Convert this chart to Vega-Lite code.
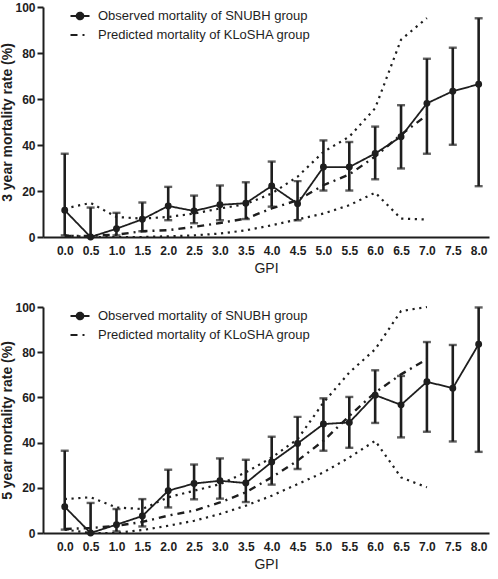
{
  "$schema": "https://vega.github.io/schema/vega-lite/v6.json",
  "background": "white",
  "padding": {"left": 0, "top": 1, "right": 6, "bottom": 4},
  "spacing": 26,
  "config": {
    "font": "Liberation Sans",
    "view": {"stroke": null},
    "axis": {
      "grid": false,
      "domainColor": "#1e1e1e",
      "domainWidth": 2,
      "tickColor": "#1e1e1e",
      "tickWidth": 2,
      "labelFont": "Liberation Sans",
      "labelFontWeight": "bold",
      "labelFontSize": 12,
      "labelColor": "#1e1e1e",
      "titleFont": "Liberation Sans",
      "titleFontSize": 14,
      "titleFontWeight": "bold",
      "titleColor": "#1e1e1e"
    },
    "legend": {
      "orient": "none",
      "legendX": 26,
      "legendY": -2,
      "padding": 0,
      "rowPadding": 0,
      "labelFont": "Liberation Sans",
      "labelFontSize": 13,
      "labelColor": "#1e1e1e",
      "labelOffset": 7,
      "labelLimit": 0,
      "symbolSize": 361,
      "symbolStrokeWidth": 2,
      "symbolStrokeColor": "#1e1e1e"
    }
  },
  "datasets": {
    "obs3": [
      {"gpi": 0.0, "rate": 11.6, "lo": 0.7, "hi": 36.2},
      {"gpi": 0.5, "rate": 0.0, "lo": 0.0, "hi": 12.8},
      {"gpi": 1.0, "rate": 3.6, "lo": 0.7, "hi": 10.5},
      {"gpi": 1.5, "rate": 7.7, "lo": 2.5, "hi": 15.0},
      {"gpi": 2.0, "rate": 13.5, "lo": 7.3, "hi": 21.8},
      {"gpi": 2.5, "rate": 11.3, "lo": 6.0, "hi": 18.0},
      {"gpi": 3.0, "rate": 14.0, "lo": 7.3, "hi": 22.4},
      {"gpi": 3.5, "rate": 14.7, "lo": 7.8, "hi": 23.8},
      {"gpi": 4.0, "rate": 22.2, "lo": 13.2, "hi": 32.8},
      {"gpi": 4.5, "rate": 14.5, "lo": 7.3, "hi": 24.3},
      {"gpi": 5.0, "rate": 30.4, "lo": 20.2, "hi": 42.0},
      {"gpi": 5.5, "rate": 30.4, "lo": 20.2, "hi": 41.3},
      {"gpi": 6.0, "rate": 36.3, "lo": 25.1, "hi": 48.0},
      {"gpi": 6.5, "rate": 43.6, "lo": 29.8, "hi": 57.3},
      {"gpi": 7.0, "rate": 58.1, "lo": 36.2, "hi": 77.5},
      {"gpi": 7.5, "rate": 63.4, "lo": 40.1, "hi": 82.3},
      {"gpi": 8.0, "rate": 66.4, "lo": 22.1, "hi": 95.1}
    ],
    "pred3": [
      {"gpi": 0.0, "pred": 0.5, "ciLo": 0.7, "ciHi": 12.4},
      {"gpi": 0.5, "pred": 0.5, "ciLo": 0.0, "ciHi": 14.8},
      {"gpi": 1.0, "pred": 1.0, "ciLo": 0.0, "ciHi": 8.7},
      {"gpi": 1.5, "pred": 2.5, "ciLo": 0.0, "ciHi": 8.0},
      {"gpi": 2.0, "pred": 3.0, "ciLo": 0.3, "ciHi": 8.7},
      {"gpi": 2.5, "pred": 4.4, "ciLo": 0.7, "ciHi": 10.2},
      {"gpi": 3.0, "pred": 6.1, "ciLo": 1.5, "ciHi": 12.4},
      {"gpi": 3.5, "pred": 8.0, "ciLo": 2.9, "ciHi": 14.3},
      {"gpi": 4.0, "pred": 12.4, "ciLo": 5.1, "ciHi": 18.9},
      {"gpi": 4.5, "pred": 16.0, "ciLo": 7.6, "ciHi": 26.2},
      {"gpi": 5.0, "pred": 22.5, "ciLo": 10.2, "ciHi": 37.0},
      {"gpi": 5.5, "pred": 27.2, "ciLo": 13.8, "ciHi": 43.6},
      {"gpi": 6.0, "pred": 35.0, "ciLo": 19.3, "ciHi": 56.0},
      {"gpi": 6.5, "pred": 44.5, "ciLo": 8.0, "ciHi": 85.8},
      {"gpi": 7.0, "pred": 53.0, "ciLo": 7.6, "ciHi": 95.2}
    ],
    "obs5": [
      {"gpi": 0.0, "rate": 11.6, "lo": 1.5, "hi": 36.4},
      {"gpi": 0.5, "rate": 0.0, "lo": 0.0, "hi": 13.3},
      {"gpi": 1.0, "rate": 3.7, "lo": 0.7, "hi": 10.6},
      {"gpi": 1.5, "rate": 7.5, "lo": 2.9, "hi": 15.0},
      {"gpi": 2.0, "rate": 18.7, "lo": 11.3, "hi": 28.0},
      {"gpi": 2.5, "rate": 21.9, "lo": 14.9, "hi": 30.3},
      {"gpi": 3.0, "rate": 23.1, "lo": 15.2, "hi": 33.0},
      {"gpi": 3.5, "rate": 22.1, "lo": 13.7, "hi": 32.4},
      {"gpi": 4.0, "rate": 31.4, "lo": 21.4, "hi": 42.6},
      {"gpi": 4.5, "rate": 39.6, "lo": 28.3, "hi": 51.4},
      {"gpi": 5.0, "rate": 48.2, "lo": 36.4, "hi": 59.6},
      {"gpi": 5.5, "rate": 48.9, "lo": 37.7, "hi": 60.2},
      {"gpi": 6.0, "rate": 61.0, "lo": 48.7, "hi": 72.0},
      {"gpi": 6.5, "rate": 56.7, "lo": 42.3, "hi": 69.5},
      {"gpi": 7.0, "rate": 66.9, "lo": 44.8, "hi": 84.5},
      {"gpi": 7.5, "rate": 64.1, "lo": 40.5, "hi": 83.2},
      {"gpi": 8.0, "rate": 83.5, "lo": 35.9, "hi": 99.8}
    ],
    "pred5": [
      {"gpi": 0.0, "pred": 1.8, "ciLo": 1.5, "ciHi": 15.0},
      {"gpi": 0.5, "pred": 2.2, "ciLo": 0.0, "ciHi": 15.8},
      {"gpi": 1.0, "pred": 3.2, "ciLo": 0.0, "ciHi": 11.3},
      {"gpi": 1.5, "pred": 4.9, "ciLo": 1.3, "ciHi": 10.6},
      {"gpi": 2.0, "pred": 7.7, "ciLo": 3.2, "ciHi": 15.8},
      {"gpi": 2.5, "pred": 9.9, "ciLo": 5.4, "ciHi": 18.7},
      {"gpi": 3.0, "pred": 13.5, "ciLo": 8.4, "ciHi": 21.6},
      {"gpi": 3.5, "pred": 18.0, "ciLo": 12.1, "ciHi": 26.8},
      {"gpi": 4.0, "pred": 24.6, "ciLo": 16.5, "ciHi": 33.4},
      {"gpi": 4.5, "pred": 32.0, "ciLo": 21.6, "ciHi": 41.5},
      {"gpi": 5.0, "pred": 40.8, "ciLo": 26.8, "ciHi": 57.7},
      {"gpi": 5.5, "pred": 51.8, "ciLo": 33.4, "ciHi": 71.0},
      {"gpi": 6.0, "pred": 62.2, "ciLo": 40.8, "ciHi": 81.3},
      {"gpi": 6.5, "pred": 70.2, "ciLo": 24.6, "ciHi": 98.2},
      {"gpi": 7.0, "pred": 76.9, "ciLo": 20.2, "ciHi": 100.0}
    ]
  },
  "vconcat": [
    {
      "width": 446,
      "height": 230,
      "encoding": {
        "x": {
          "field": "gpi",
          "type": "quantitative",
          "scale": {"domain": [-0.42, 8.2], "nice": false, "zero": false},
          "axis": {
            "values": [0, 0.5, 1, 1.5, 2, 2.5, 3, 3.5, 4, 4.5, 5, 5.5, 6, 6.5, 7, 7.5, 8],
            "format": ".1f",
            "ticks": false,
            "labelPadding": 8,
            "title": "GPI",
            "titlePadding": 5,
            "titleFontWeight": "normal"
          }
        }
      },
      "layer": [
        {
          "data": {"name": "pred3"},
          "mark": {"type": "line", "strokeDash": [2.2, 4.6], "strokeWidth": 2.2, "color": "#1e1e1e"},
          "encoding": {
            "y": {
              "field": "ciHi",
              "type": "quantitative",
              "scale": {"domain": [0, 100], "nice": false},
              "axis": {"values": [0, 20, 40, 60, 80, 100], "tickSize": 6, "labelPadding": 2, "titlePadding": 0, "title": "3 year mortality rate (%)"}
            }
          }
        },
        {
          "data": {"name": "pred3"},
          "mark": {"type": "line", "strokeDash": [2.2, 4.6], "strokeWidth": 2.2, "color": "#1e1e1e"},
          "encoding": {"y": {"field": "ciLo", "type": "quantitative"}}
        },
        {
          "data": {"name": "pred3"},
          "mark": {"type": "line", "strokeWidth": 2.4, "color": "#1e1e1e"},
          "encoding": {
            "y": {"field": "pred", "type": "quantitative"},
            "strokeDash": {
              "datum": "Predicted mortality of KLoSHA group",
              "type": "nominal",
              "scale": {
                "domain": ["Observed mortality of SNUBH group", "Predicted mortality of KLoSHA group"],
                "range": [[1, 0], [7, 5, 2, 5]]
              },
              "legend": {
                "title": null,
                "encode": {
                  "symbols": {
                    "update": {
                      "shape": {"signal": "datum.value === 'Observed mortality of SNUBH group' ? 'M-1,0L1,0M-0.34,0A0.34,0.34 0 1,0 0.34,0A0.34,0.34 0 1,0 -0.34,0Z' : 'stroke'"},
                      "fill": {"signal": "datum.value === 'Observed mortality of SNUBH group' ? '#1e1e1e' : 'transparent'"},
                      "stroke": {"value": "#1e1e1e"},
                      "strokeWidth": {"value": 2.2},
                      "strokeDash": {"signal": "datum.value === 'Observed mortality of SNUBH group' ? [1, 0] : [6, 6, 2, 6]"},
                      "opacity": {"value": 1}
                    }
                  }
                }
              }
            }
          }
        },
        {
          "data": {"name": "obs3"},
          "mark": {"type": "rule", "strokeWidth": 2.6, "color": "#1e1e1e"},
          "encoding": {
            "y": {"field": "lo", "type": "quantitative"},
            "y2": {"field": "hi"}
          }
        },
        {
          "data": {"name": "obs3"},
          "mark": {"type": "tick", "orient": "horizontal", "size": 8, "thickness": 2.4, "color": "#1e1e1e"},
          "encoding": {"y": {"field": "hi", "type": "quantitative"}}
        },
        {
          "data": {"name": "obs3"},
          "mark": {"type": "tick", "orient": "horizontal", "size": 8, "thickness": 2.4, "color": "#1e1e1e"},
          "encoding": {"y": {"field": "lo", "type": "quantitative"}}
        },
        {
          "data": {"name": "obs3"},
          "mark": {"type": "line", "strokeWidth": 1.8, "color": "#1e1e1e"},
          "encoding": {
            "y": {"field": "rate", "type": "quantitative"},
            "strokeDash": {"datum": "Observed mortality of SNUBH group", "type": "nominal"}
          }
        },
        {
          "data": {"name": "obs3"},
          "mark": {"type": "point", "filled": true, "size": 48, "opacity": 1, "color": "#1e1e1e"},
          "encoding": {"y": {"field": "rate", "type": "quantitative"}}
        }
      ]
    },
    {
      "width": 446,
      "height": 226,
      "encoding": {
        "x": {
          "field": "gpi",
          "type": "quantitative",
          "scale": {"domain": [-0.42, 8.2], "nice": false, "zero": false},
          "axis": {
            "values": [0, 0.5, 1, 1.5, 2, 2.5, 3, 3.5, 4, 4.5, 5, 5.5, 6, 6.5, 7, 7.5, 8],
            "format": ".1f",
            "ticks": false,
            "labelPadding": 8,
            "title": "GPI",
            "titlePadding": 5,
            "titleFontWeight": "normal"
          }
        }
      },
      "layer": [
        {
          "data": {"name": "pred5"},
          "mark": {"type": "line", "strokeDash": [2.2, 4.6], "strokeWidth": 2.2, "color": "#1e1e1e"},
          "encoding": {
            "y": {
              "field": "ciHi",
              "type": "quantitative",
              "scale": {"domain": [0, 100], "nice": false},
              "axis": {"values": [0, 20, 40, 60, 80, 100], "tickSize": 6, "labelPadding": 2, "titlePadding": 0, "title": "5 year mortality rate (%)"}
            }
          }
        },
        {
          "data": {"name": "pred5"},
          "mark": {"type": "line", "strokeDash": [2.2, 4.6], "strokeWidth": 2.2, "color": "#1e1e1e"},
          "encoding": {"y": {"field": "ciLo", "type": "quantitative"}}
        },
        {
          "data": {"name": "pred5"},
          "mark": {"type": "line", "strokeWidth": 2.4, "color": "#1e1e1e"},
          "encoding": {
            "y": {"field": "pred", "type": "quantitative"},
            "strokeDash": {
              "datum": "Predicted mortality of KLoSHA group",
              "type": "nominal",
              "scale": {
                "domain": ["Observed mortality of SNUBH group", "Predicted mortality of KLoSHA group"],
                "range": [[1, 0], [7, 5, 2, 5]]
              },
              "legend": {
                "title": null,
                "encode": {
                  "symbols": {
                    "update": {
                      "shape": {"signal": "datum.value === 'Observed mortality of SNUBH group' ? 'M-1,0L1,0M-0.34,0A0.34,0.34 0 1,0 0.34,0A0.34,0.34 0 1,0 -0.34,0Z' : 'stroke'"},
                      "fill": {"signal": "datum.value === 'Observed mortality of SNUBH group' ? '#1e1e1e' : 'transparent'"},
                      "stroke": {"value": "#1e1e1e"},
                      "strokeWidth": {"value": 2.2},
                      "strokeDash": {"signal": "datum.value === 'Observed mortality of SNUBH group' ? [1, 0] : [6, 6, 2, 6]"},
                      "opacity": {"value": 1}
                    }
                  }
                }
              }
            }
          }
        },
        {
          "data": {"name": "obs5"},
          "mark": {"type": "rule", "strokeWidth": 2.6, "color": "#1e1e1e"},
          "encoding": {
            "y": {"field": "lo", "type": "quantitative"},
            "y2": {"field": "hi"}
          }
        },
        {
          "data": {"name": "obs5"},
          "mark": {"type": "tick", "orient": "horizontal", "size": 8, "thickness": 2.4, "color": "#1e1e1e"},
          "encoding": {"y": {"field": "hi", "type": "quantitative"}}
        },
        {
          "data": {"name": "obs5"},
          "mark": {"type": "tick", "orient": "horizontal", "size": 8, "thickness": 2.4, "color": "#1e1e1e"},
          "encoding": {"y": {"field": "lo", "type": "quantitative"}}
        },
        {
          "data": {"name": "obs5"},
          "mark": {"type": "line", "strokeWidth": 1.8, "color": "#1e1e1e"},
          "encoding": {
            "y": {"field": "rate", "type": "quantitative"},
            "strokeDash": {"datum": "Observed mortality of SNUBH group", "type": "nominal"}
          }
        },
        {
          "data": {"name": "obs5"},
          "mark": {"type": "point", "filled": true, "size": 48, "opacity": 1, "color": "#1e1e1e"},
          "encoding": {"y": {"field": "rate", "type": "quantitative"}}
        }
      ]
    }
  ],
  "resolve": {"scale": {"strokeDash": "independent", "y": "independent", "x": "independent"}}
}
